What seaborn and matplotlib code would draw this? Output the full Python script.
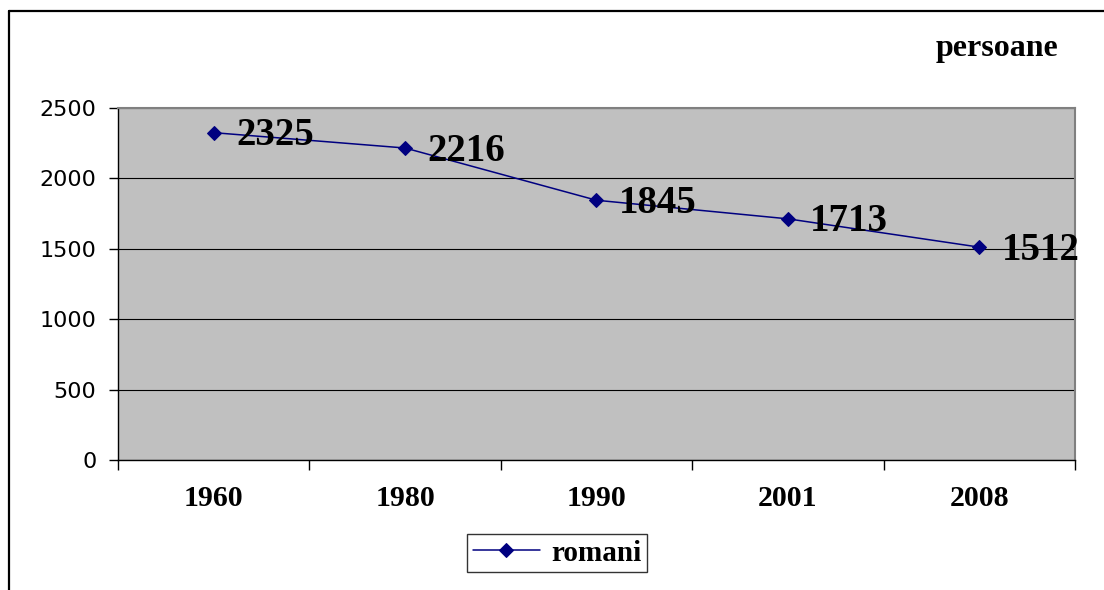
import numpy as np
import pandas as pd
import matplotlib
matplotlib.use("Agg")
import matplotlib.pyplot as plt
from matplotlib.lines import Line2D
import seaborn as sns

# data
years = ["1960", "1980", "1990", "2001", "2008"]
romani = [2325, 2216, 1845, 1713, 1512]
y_ticks = [0, 500, 1000, 1500, 2000, 2500]
series_name = "romani"
unit_label = "persoane"

navy = "#000080"
serif = ["Liberation Serif", "DejaVu Serif"]

sns.set_style("white")
plt.rcParams["font.family"] = ["DejaVu Sans"]
plt.rcParams["text.color"] = "black"
plt.rcParams["xtick.color"] = "black"
plt.rcParams["ytick.color"] = "black"

df = pd.DataFrame({"an": years, "valoare": romani})

fig = plt.figure(figsize=(11.04, 5.90), dpi=100)
ax = fig.add_axes([0.1069, 0.2203, 0.8668, 0.5966])
ax.set_facecolor("#C0C0C0")

sns.lineplot(data=df, x="an", y="valoare", marker="D", markersize=7,
             color=navy, markeredgecolor=navy, linewidth=1.1,
             label=series_name, ax=ax, zorder=3)

# value labels next to each point
for i, v in enumerate(romani):
    ax.annotate(str(v), (i, v), xytext=(16, -9), textcoords="offset points",
                ha="left", va="baseline", fontsize=28, fontweight="bold",
                family=serif, color="black", zorder=4, annotation_clip=False)

ax.set_xlim(-0.5, len(years) - 0.5)
ax.set_ylim(0, 2500)
ax.set_yticks(y_ticks)
ax.set_yticklabels([str(t) for t in y_ticks], fontsize=16)
ax.set_xticks(range(len(years)))
ax.set_xticklabels(years, fontsize=21.5, fontweight="bold", family=serif)
ax.set_xticks(np.arange(-0.5, len(years), 1), minor=True)
ax.tick_params(axis="x", which="major", length=0, pad=18)
ax.tick_params(axis="x", which="minor", length=7, width=1, color="black",
               direction="out", bottom=True)
ax.tick_params(axis="y", length=6.5, width=1, color="black", direction="out",
               pad=9, left=True)
ax.set_xlabel("")
ax.set_ylabel("")

ax.yaxis.grid(True, color="black", linewidth=0.8)
ax.xaxis.grid(False)
ax.set_axisbelow(True)

for side in ["top", "right"]:
    ax.spines[side].set_color("#808080")
    ax.spines[side].set_linewidth(1.5)
for side in ["left", "bottom"]:
    ax.spines[side].set_color("black")
    ax.spines[side].set_linewidth(1.0)

leg = ax.legend(loc="center", bbox_to_anchor=(0.5045, 0.0627),
                bbox_transform=fig.transFigure, frameon=True, fancybox=False,
                handlelength=2.3, handletextpad=0.4, borderpad=0.2,
                prop={"family": serif, "weight": "bold", "size": 21})
leg.get_frame().set_edgecolor("black")
leg.get_frame().set_linewidth(1.0)
for t in leg.get_texts():
    t.set_color("black")

fig.text(0.903, 0.9186, unit_label, ha="center", va="center", fontsize=23,
         fontweight="bold", family=serif, color="black")

# outer chart frame (left and top edges only, as in the reference)
fig.add_artist(Line2D([0.0077, 0.0077], [0.0, 0.982], color="black",
                      linewidth=1.6, transform=fig.transFigure))
fig.add_artist(Line2D([0.0077, 1.0], [0.982, 0.982], color="black",
                      linewidth=1.6, transform=fig.transFigure))

fig.savefig("out.png", dpi=100, facecolor="white")
